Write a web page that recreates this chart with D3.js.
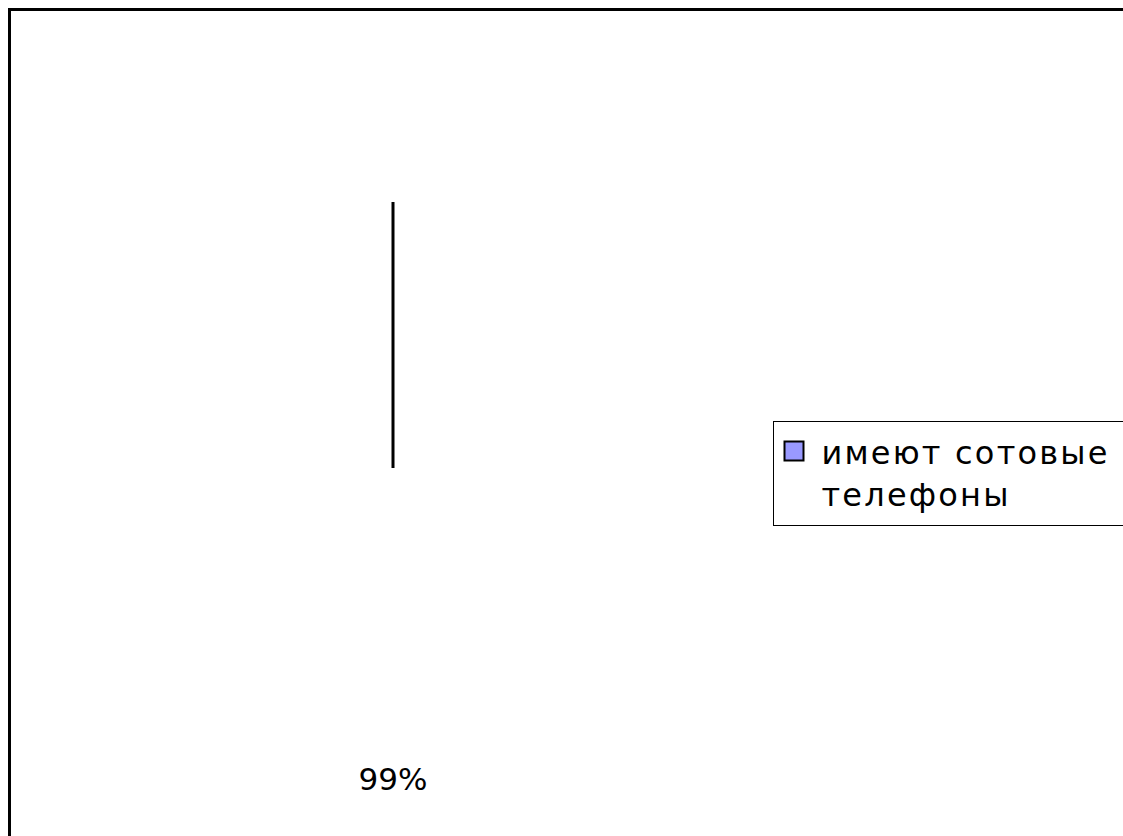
<!DOCTYPE html>
<html lang="ru">
<head>
<meta charset="UTF-8">
<title>Сотовые телефоны</title>
<script src="https://d3js.org/d3.v7.min.js"></script>
<style>
    html, body { margin: 0; padding: 0; background: #fff; }
    svg { display: block; }
    .lbl { font-family: "DejaVu Sans", Verdana, sans-serif; fill: #000; }
</style>
</head>
<body>
<svg id="chart" width="1123" height="836"></svg>
<script>
    // data
    const categories = ["имеют сотовые телефоны"];
    const values = [99];
    const valueLabels = ["99%"];
    const legendLines = ["имеют сотовые", "телефоны"];
    const colors = ["#9999ff"];

    const width = 1123, height = 836;
    const svg = d3.select("#chart");

    // outer frame (only left and top edges visible)
    svg.append("rect")
        .attr("x", 9.5).attr("y", 9.5)
        .attr("width", width + 20).attr("height", height + 20)
        .attr("fill", "#fff")
        .attr("stroke", "#000")
        .attr("stroke-width", 3);

    const cx = 393, cy = 468, radius = 266;
    const g = svg.append("g").attr("transform", `translate(${cx},${cy})`);

    const pie = d3.pie().sort(null);
    const arcs = pie(values);
    const arc = d3.arc().innerRadius(0).outerRadius(radius);

    // slice body is drawn blank, only its radial edge shows
    g.selectAll("path.slice")
        .data(arcs)
        .join("path")
        .attr("class", "slice")
        .attr("d", arc)
        .attr("fill", "#fff")
        .attr("stroke", "none");

    g.selectAll("line.edge")
        .data(arcs)
        .join("line")
        .attr("class", "edge")
        .attr("x1", 0).attr("y1", 0)
        .attr("x2", d => radius * Math.sin(d.startAngle))
        .attr("y2", d => -radius * Math.cos(d.startAngle))
        .attr("stroke", "#000")
        .attr("stroke-width", 3);

    const labelArc = d3.arc().innerRadius(311).outerRadius(311);
    g.selectAll("text.val")
        .data(arcs)
        .join("text")
        .attr("class", "lbl val")
        .attr("transform", d => `translate(${labelArc.centroid(d)})`)
        .attr("text-anchor", "middle")
        .attr("dy", "0.36em")
        .attr("font-size", 31)
        .text((d, i) => valueLabels[i]);

    // legend
    const legend = svg.append("g").attr("transform", "translate(773.5,421.5)");
    legend.append("rect")
        .attr("width", 400).attr("height", 104)
        .attr("fill", "#fff")
        .attr("stroke", "#000")
        .attr("stroke-width", 1);

    legend.selectAll("rect.sw")
        .data(categories)
        .join("rect")
        .attr("class", "sw")
        .attr("x", 11).attr("y", 20)
        .attr("width", 19).attr("height", 19)
        .attr("fill", (d, i) => colors[i])
        .attr("stroke", "#000")
        .attr("stroke-width", 2);

    legend.selectAll("text.leg")
        .data(legendLines)
        .join("text")
        .attr("class", "lbl leg")
        .attr("x", 48)
        .attr("y", (d, i) => 42 + i * 42)
        .attr("font-size", 32)
        .attr("letter-spacing", 2.2)
        .text(d => d);
</script>
</body>
</html>
